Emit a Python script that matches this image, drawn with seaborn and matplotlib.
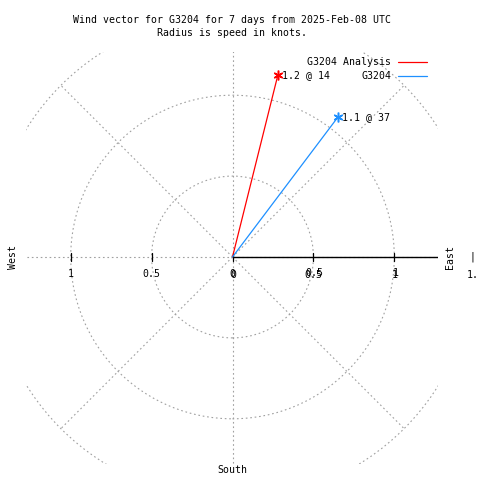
import matplotlib.pyplot as plt
import matplotlib.patches as mpatches
from matplotlib.lines import Line2D
import numpy as np
import pandas as pd
import seaborn as sns

# wind data (speed in knots, direction in degrees from north)
series = ["G3204 Analysis", "G3204"]
speeds = [1.16, 1.08]
directions = [14, 37]
point_labels = ["1.2 @ 14", "1.1 @ 37"]
colors = ["#ff0000", "#1e90ff"]

ring_radii = [0.5, 1.0, 1.5]
tick_values = [0.5, 1.0]
tick_labels = ["0.5", "1"]

sns.set_theme(style="white")
plt.rcParams["font.family"] = ["DejaVu Sans Mono"]
plt.rcParams["text.color"] = "black"
FS = 7.15
GRID = "#a0a0a0"

fig = plt.figure(figsize=(4.8, 4.8), dpi=100)
scale = 161.8
cx, cy = 232.5, 257
left_px, right_px, top_px, bottom_px = 26, 438, 52, 464
ax = fig.add_axes([left_px / 480, 1 - bottom_px / 480,
                   (right_px - left_px) / 480, (bottom_px - top_px) / 480])
ax.set_xlim((left_px - cx) / scale, (right_px - cx) / scale)
ax.set_ylim((cy - bottom_px) / scale, (cy - top_px) / scale)
ax.set_axis_off()

# grid rings
for r in ring_radii:
    ax.add_patch(mpatches.Circle((0, 0), r, fill=False, edgecolor=GRID,
                                 linestyle=(0, (1.5, 2.5)), linewidth=0.8))
# radial grid lines
for ang in range(0, 360, 45):
    length = 3.0 if ang % 90 == 0 else 1.5
    a = np.deg2rad(ang)
    ax.plot([0, length * np.cos(a)], [0, length * np.sin(a)], color=GRID,
            linestyle=(0, (1.5, 2.5)), linewidth=0.8)

# east axis line and ticks
ax.plot([0, 3], [0, 0], color="black", linewidth=1.0)
tick_h = 4 / scale
for t in [0] + tick_values + [-v for v in tick_values]:
    ax.plot([t, t], [-tick_h, tick_h], color="black", linewidth=0.9)

# tick labels (east side is drawn twice, slightly offset, as in the source)
lab_y = -17 / scale
ax.text(0, lab_y, "0", ha="center", va="center", fontsize=FS)
ax.text(1 / scale, lab_y - 1 / scale, "0", ha="center", va="center", fontsize=FS)
for v, lab in zip(tick_values, tick_labels):
    ax.text(-v, lab_y, lab, ha="center", va="center", fontsize=FS)
    ax.text(v + 1 / scale, lab_y + 1.5 / scale, lab, ha="center", va="center", fontsize=FS)
    ax.text(v, lab_y - 1 / scale, lab, ha="center", va="center", fontsize=FS)

# wind vectors
rows = []
for name, s, d in zip(series, speeds, directions):
    rad = np.deg2rad(d)
    rows.append({"series": name, "step": 0, "x": 0.0, "y": 0.0})
    rows.append({"series": name, "step": 1, "x": s * np.sin(rad), "y": s * np.cos(rad)})
df = pd.DataFrame(rows)
sns.lineplot(data=df, x="x", y="y", hue="series", units="series", estimator=None,
             sort=False, palette=dict(zip(series, colors)), linewidth=0.9,
             legend=False, ax=ax)
tips = df[df["step"] == 1]
for (_, row), c, lab in zip(tips.iterrows(), colors, point_labels):
    ax.plot(row["x"], row["y"], marker=(6, 2, 0), markersize=7, color=c,
            markeredgewidth=1.1)
    ax.text(row["x"] + 4 / scale, row["y"], lab, ha="left", va="center", fontsize=FS)

# direction labels
ax.text(-1.355, 0, "West", rotation=90, ha="center", va="center", fontsize=FS, clip_on=False)
ax.text(1.344, 0, "East", rotation=90, ha="center", va="center", fontsize=FS, clip_on=False)
ax.text(0, -1.316, "South", ha="center", va="center", fontsize=FS, clip_on=False)
ax.text(1.485, lab_y - 1 / scale, "1.", ha="center", va="center", fontsize=FS, clip_on=False)
ax.text(1.485, 0, "|", ha="center", va="center", fontsize=FS, clip_on=False)

# legend
handles = [Line2D([0], [0], color=c, linewidth=0.9) for c in colors]
ax.legend(handles, series, loc="upper right", bbox_to_anchor=(427 / 480, 1 - 57 / 480),
          bbox_transform=fig.transFigure, frameon=False, markerfirst=False,
          fontsize=FS, handlelength=2.9, handletextpad=0.7, labelspacing=0.45,
          borderpad=0, borderaxespad=0)

fig.text(0.483, 1 - 20 / 480, "Wind vector for G3204 for 7 days from 2025-Feb-08 UTC",
         ha="center", va="center", fontsize=FS)
fig.text(0.483, 1 - 33 / 480, "Radius is speed in knots.", ha="center", va="center", fontsize=FS)

fig.savefig("out.png", dpi=100)
